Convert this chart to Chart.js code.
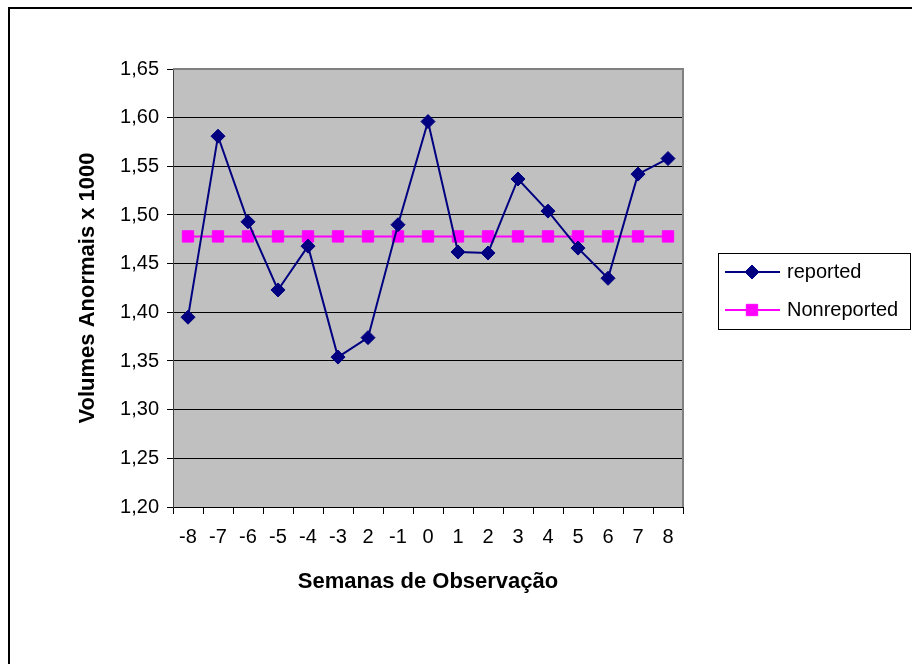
<!DOCTYPE html>
<html>
<head>
<meta charset="utf-8">
<script src="https://cdn.jsdelivr.net/npm/chart.js@4.4.0/dist/chart.umd.min.js"></script>
<style>
  body { margin: 0; background: #fff; }
</style>
</head>
<body>
<canvas id="chart" width="912" height="664"></canvas>
<script>
var weeks = ["-8", "-7", "-6", "-5", "-4", "-3", "2", "-1", "0", "1", "2", "3", "4", "5", "6", "7", "8"];
var reported = [1.395, 1.581, 1.493, 1.423, 1.468, 1.354, 1.374, 1.490, 1.596, 1.462, 1.461, 1.537, 1.504, 1.466, 1.435, 1.542, 1.558];
var nonreported = [1.478, 1.478, 1.478, 1.478, 1.478, 1.478, 1.478, 1.478, 1.478, 1.478, 1.478, 1.478, 1.478, 1.478, 1.478, 1.478, 1.478];
var yTicks = [1.20, 1.25, 1.30, 1.35, 1.40, 1.45, 1.50, 1.55, 1.60, 1.65];

var FONT = "'Liberation Sans', Arial, sans-serif";

var data_reported = {
  label: "reported",
  data: reported,
  borderColor: '#000080',
  backgroundColor: '#000080',
  borderWidth: 2,
  pointStyle: 'rectRot',
  pointRadius: 7,
  pointHoverRadius: 7,
  pointBorderWidth: 1,
  tension: 0
};

var data_nonreported = {
  label: "Nonreported",
  data: nonreported,
  borderColor: '#FF00FF',
  backgroundColor: '#FF00FF',
  borderWidth: 2,
  pointStyle: 'rect',
  pointRadius: 8,
  pointHoverRadius: 8,
  pointBorderWidth: 1,
  tension: 0
};

// background, frame and the legend drawn by hand (Excel style)
var excelLook = {
  id: 'excelLook',
  beforeDraw: function (chart) {
    var ctx = chart.ctx, a = chart.chartArea;
    ctx.save();
    ctx.fillStyle = '#fff';
    ctx.fillRect(0, 0, chart.width, chart.height);
    ctx.strokeStyle = '#000';
    ctx.lineWidth = 2;
    ctx.beginPath();
    ctx.moveTo(9, chart.height);
    ctx.lineTo(9, 8);
    ctx.lineTo(chart.width, 8);
    ctx.stroke();
    ctx.fillStyle = '#C0C0C0';
    ctx.fillRect(a.left, a.top, a.right - a.left, a.bottom - a.top);
    ctx.restore();
  },
  afterDraw: function (chart) {
    var ctx = chart.ctx, a = chart.chartArea;
    ctx.save();
    ctx.strokeStyle = '#808080';
    ctx.lineWidth = 2;
    ctx.beginPath();
    ctx.moveTo(a.left, a.top);
    ctx.lineTo(a.right, a.top);
    ctx.lineTo(a.right, a.bottom);
    ctx.stroke();

    // legend
    ctx.strokeStyle = '#000';
    ctx.lineWidth = 1;
    ctx.strokeRect(718.5, 253.5, 192, 76);
    chart.data.datasets.forEach(function (ds, i) {
      var y = 272 + i * 38;
      ctx.strokeStyle = ds.borderColor;
      ctx.fillStyle = ds.backgroundColor;
      ctx.lineWidth = 2;
      ctx.beginPath();
      ctx.moveTo(725, y);
      ctx.lineTo(780, y);
      ctx.stroke();
      ctx.lineWidth = 1;
      Chart.helpers.drawPoint(ctx, { pointStyle: ds.pointStyle, radius: ds.pointRadius, rotation: 0, borderWidth: 1 }, 752, y);
      ctx.fillStyle = '#000';
      ctx.font = '20px ' + FONT;
      ctx.textBaseline = 'middle';
      ctx.textAlign = 'left';
      ctx.fillText(ds.label, 787, y);
    });
    ctx.restore();
  }
};

var config1 = {
  type: 'line',
  data: {
    labels: weeks,
    datasets: [data_reported, data_nonreported]
  },
  plugins: [excelLook],
  options: {
    responsive: false,
    devicePixelRatio: 1,
    animation: false,
    layout: {
      padding: { left: 10, top: 69, right: 229, bottom: 59 }
    },
    plugins: {
      legend: { display: false },
      tooltip: { enabled: false }
    },
    scales: {
      x: {
        type: 'category',
        offset: true,
        afterFit: function (s) { s.height = 98; },
        grid: {
          offset: true,
          drawOnChartArea: false,
          color: '#000',
          tickLength: 7
        },
        border: { color: '#000', width: 1 },
        ticks: {
          color: '#000',
          padding: 11,
          maxRotation: 0,
          autoSkip: false,
          font: { family: FONT, size: 20 }
        },
        title: {
          display: true,
          text: 'Semanas de Observação',
          color: '#000',
          font: { family: FONT, size: 22, weight: 'bold' },
          padding: { top: 0, bottom: 10 }
        }
      },
      y: {
        min: yTicks[0],
        max: yTicks[yTicks.length - 1],
        afterFit: function (s) { s.width = 163; },
        afterBuildTicks: function (s) {
          s.ticks = yTicks.map(function (v) { return { value: v }; });
        },
        grid: {
          color: function (c) { return c.index === yTicks.length - 1 ? '#808080' : '#000'; },
          tickColor: '#000',
          tickLength: 6,
          lineWidth: 1
        },
        border: { color: '#404040', width: 1 },
        ticks: {
          color: '#000',
          padding: 8,
          font: { family: FONT, size: 20 },
          callback: function (v) { return v.toFixed(2).replace('.', ','); }
        },
        title: {
          display: true,
          text: 'Volumes Anormais x 1000',
          color: '#000',
          font: { family: FONT, size: 22, weight: 'bold' },
          padding: { top: 65, bottom: 0 }
        }
      }
    }
  }
};

var chart = new Chart(document.getElementById('chart'), config1);
</script>
</body>
</html>
